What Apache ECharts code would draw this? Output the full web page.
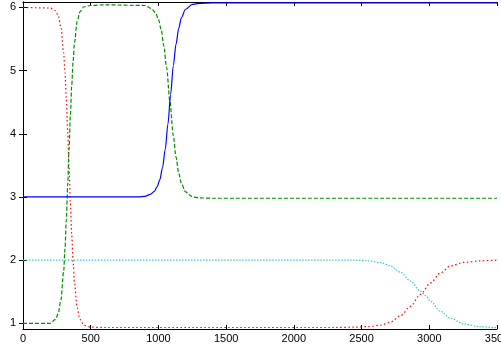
<!DOCTYPE html>
<html>
<head>
<meta charset="utf-8">
<script src="https://cdn.jsdelivr.net/npm/echarts@6/dist/echarts.min.js"></script>
<style>html,body{margin:0;padding:0;background:#fff}#c{width:501px;height:347px}</style>
</head>
<body>
<div id="c"></div>
<script>
var xTicks = [0, 500, 1000, 1500, 2000, 2500, 3000, 3500];
var yTicks = [1, 2, 3, 4, 5, 6];

var redX = [0, 200, 240, 260, 280, 300, 310, 320, 330, 340, 350, 360, 370, 380, 400, 420, 450, 500, 600, 1500, 2300, 2450, 2550, 2640, 2713, 2787, 2861, 2935, 3009, 3083, 3157, 3255, 3379, 3500];
var redY = [6.0, 5.99, 5.95, 5.87, 5.69, 5.29, 4.97, 4.55, 4.03, 3.47, 2.90, 2.39, 1.97, 1.64, 1.25, 1.065, 0.97, 0.94, 0.935, 0.935, 0.935, 0.94, 0.95, 0.97, 1.02, 1.12, 1.27, 1.46, 1.64, 1.80, 1.91, 1.965, 1.99, 2.0];

var greenX = [0, 200, 240, 260, 280, 300, 310, 320, 330, 340, 350, 360, 370, 380, 400, 420, 450, 500, 600, 900, 950, 980, 1000, 1020, 1040, 1060, 1085, 1110, 1130, 1150, 1170, 1200, 1250, 1300, 1400, 3500];
var greenY = [1.0, 1.0, 1.064, 1.154, 1.37, 1.82, 2.18, 2.64, 3.18, 3.75, 4.30, 4.77, 5.15, 5.44, 5.78, 5.93, 6.01, 6.03, 6.04, 6.03, 5.98, 5.91, 5.81, 5.65, 5.39, 5.05, 4.51, 3.97, 3.63, 3.375, 3.21, 3.08, 3.004, 2.985, 2.98, 2.98];

var blueX = [0, 850, 900, 940, 970, 990, 1010, 1030, 1050, 1070, 1090, 1110, 1130, 1150, 1170, 1200, 1250, 1300, 1400, 3500];
var blueY = [3.0, 3.002, 3.01, 3.04, 3.09, 3.16, 3.27, 3.46, 3.75, 4.15, 4.62, 5.08, 5.42, 5.67, 5.84, 5.97, 6.046, 6.064, 6.07, 6.07];

var cyanX = [0, 2450, 2550, 2640, 2713, 2787, 2861, 2935, 2972, 3009, 3083, 3157, 3255, 3379, 3500];
var cyanY = [2.0, 2.0, 1.99, 1.96, 1.91, 1.81, 1.67, 1.51, 1.44, 1.35, 1.19, 1.08, 0.99, 0.945, 0.93];

function pairs(xs, ys) { return xs.map(function (x, i) { return [x, ys[i]]; }); }

var font = { fontFamily: 'Liberation Sans', fontSize: 11, color: '#000' };
var axisLine = { show: true, lineStyle: { color: '#000', width: 1 } };
var tick = { show: true, inside: true, length: 4, lineStyle: { color: '#000', width: 1 } };

var chart = echarts.init(document.getElementById('c'), null, { renderer: 'canvas' });
chart.setOption({
  animation: false,
  backgroundColor: '#fff',
  grid: { left: 23, right: 4, top: 2, bottom: 18, containLabel: false, outerBoundsMode: 'none' },
  xAxis: [
    { type: 'value', min: 0, max: 3500, interval: 500, position: 'bottom',
      axisLine: axisLine, axisTick: tick, splitLine: { show: false },
      axisLabel: Object.assign({ margin: 4, showMaxLabel: true, showMinLabel: true,
        alignMaxLabel: 'center', alignMinLabel: 'center', hideOverlap: false,
        formatter: function (v) { return String(v); } }, font) },
    { type: 'value', min: 0, max: 3500, interval: 500, position: 'top',
      axisLine: axisLine, axisTick: tick, splitLine: { show: false },
      axisLabel: { show: false } }
  ],
  yAxis: [
    { type: 'value', min: 0.911, max: 6.085, position: 'left',
      axisLine: axisLine, splitLine: { show: false },
      axisTick: Object.assign({ customValues: yTicks }, tick),
      axisLabel: Object.assign({ margin: 7, customValues: yTicks }, font) },
    { type: 'value', min: 0.911, max: 6.085, position: 'right',
      axisLine: axisLine, splitLine: { show: false },
      axisTick: Object.assign({ customValues: yTicks }, tick),
      axisLabel: { show: false } }
  ],
  series: [
    { type: 'line', data: pairs(redX, redY), showSymbol: false, smooth: 0.3, smoothMonotone: 'x',
      lineStyle: { color: '#ff0000', width: 1.2, type: [1.5, 2.5] } },
    { type: 'line', data: pairs(greenX, greenY), showSymbol: false, smooth: 0.3, smoothMonotone: 'x',
      lineStyle: { color: '#008c00', width: 1.2, type: [4, 2] } },
    { type: 'line', data: pairs(blueX, blueY), showSymbol: false, smooth: 0.3, smoothMonotone: 'x',
      lineStyle: { color: '#0000ff', width: 1.2, type: 'solid' } },
    { type: 'line', data: pairs(cyanX, cyanY), showSymbol: false, smooth: 0.3, smoothMonotone: 'x',
      lineStyle: { color: '#33cccc', width: 1.2, type: [1.5, 1.5] } }
  ]
});
</script>
</body>
</html>
